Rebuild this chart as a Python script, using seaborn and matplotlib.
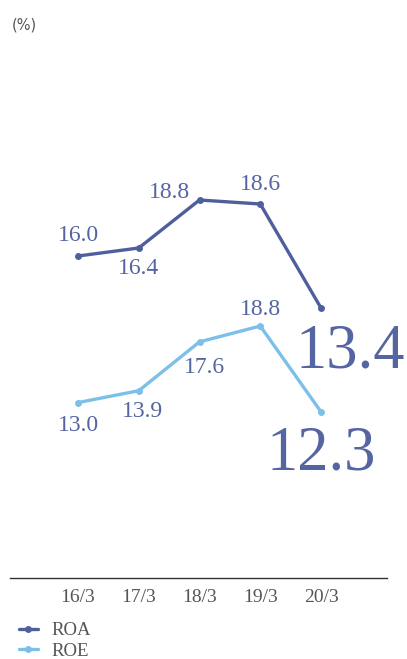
import matplotlib
matplotlib.use("Agg")
import matplotlib.pyplot as plt
from matplotlib.lines import Line2D
import seaborn as sns
import pandas as pd

periods = ["16/3", "17/3", "18/3", "19/3", "20/3"]
roa = [16.0, 16.4, 18.8, 18.6, 13.4]
roe = [13.0, 13.9, 17.6, 18.8, 12.3]

ROA_COLOR = "#4f5f9d"
ROE_COLOR = "#7cc0e9"
LABEL_COLOR = "#5565a2"
GRAY = "#555555"
SERIF = "Liberation Serif"

sns.set_theme(style="white")
plt.rcParams["font.family"] = [SERIF, "DejaVu Serif"]

df = pd.DataFrame({"period": periods, "x": range(len(periods)), "ROA": roa, "ROE": roe})

fig = plt.figure(figsize=(4.07, 6.59), dpi=100)
ax = fig.add_axes([10 / 407, 1 - 578 / 659, 377 / 407, 538 / 659])
ax2 = ax.twinx()

sns.lineplot(data=df, x="x", y="ROA", ax=ax, color=ROA_COLOR, linewidth=2.4,
             marker="o", markersize=5, markeredgewidth=0)
sns.lineplot(data=df, x="x", y="ROE", ax=ax2, color=ROE_COLOR, linewidth=2.4,
             marker="o", markersize=5, markeredgewidth=0)

# Each series has its own vertical scale
ax.set_ylim(-0.1, 26.8)
ax2.set_ylim(-0.29, 40.47)
ax.set_xlim(-1.119, 5.086)

for a in (ax, ax2):
    a.set_ylabel("")
    a.set_yticks([])
    for s in ("top", "right", "left"):
        a.spines[s].set_visible(False)
ax2.spines["bottom"].set_visible(False)
ax.spines["bottom"].set_color("#333333")
ax.spines["bottom"].set_linewidth(1.0)

ax.set_xlabel("")
ax.set_xticks(df["x"])
ax.set_xticklabels(periods, fontsize=14, color=GRAY, family=SERIF)
ax.tick_params(axis="x", length=0, pad=8)

def label(axis, i, v, dx, dy, size=17):
    axis.annotate(f"{v:.1f}", (i, v), xytext=(dx, dy), textcoords="offset pixels",
                  ha="center", va="center", fontsize=size, color=LABEL_COLOR,
                  family=SERIF)

roa_offsets = [(0, 21), (0, -20), (-30, 8), (0, 20)]
for i, (dx, dy) in enumerate(roa_offsets):
    label(ax, i, roa[i], dx, dy)
label(ax, 4, roa[4], 29, -44, size=45)

roe_offsets = [(0, -23), (4, -21), (5, -26), (0, 17)]
for i, (dx, dy) in enumerate(roe_offsets):
    label(ax2, i, roe[i], dx, dy)
label(ax2, 4, roe[4], 0, -43, size=45)

fig.text(12 / 407, 1 - 25 / 659, "(%)", fontsize=10.5, color=GRAY,
         family="DejaVu Sans", va="center", ha="left")

handles = [
    Line2D([], [], color=ROA_COLOR, linewidth=2.4, marker="o", markersize=5, markeredgewidth=0),
    Line2D([], [], color=ROE_COLOR, linewidth=2.4, marker="o", markersize=5, markeredgewidth=0),
]
fig.legend(handles, ["ROA", "ROE"], loc="upper left",
           bbox_to_anchor=(19 / 407, 1 - 622 / 659), frameon=False,
           fontsize=13.5, handlelength=1.0, handletextpad=0.75, labelspacing=0.2,
           borderaxespad=0, borderpad=0, labelcolor=GRAY)

fig.savefig("out.png", dpi=100)
